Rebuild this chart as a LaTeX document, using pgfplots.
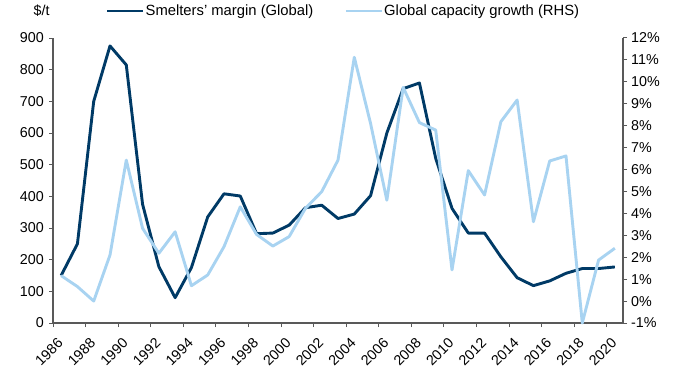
\documentclass[border=0pt]{standalone}
\usepackage{fontspec}
\setmainfont{Liberation Sans}
\usepackage{pgfplots}
\pgfplotsset{compat=1.18}
\definecolor{navy}{HTML}{003A66}
\definecolor{skyblue}{HTML}{A8D3F1}
\definecolor{axisgray}{HTML}{595959}

\begin{document}
\begin{tikzpicture}[font=\fontsize{14.3bp}{16bp}\selectfont]
\pgfplotsset{
  every axis/.append style={
    scale only axis, width=570bp, height=285bp,
    at={(0,0)}, anchor=south west,
    xmin=1986, xmax=2021,
    tick align=outside, major tick length=4bp,
    axis line style={axisgray, line width=1.2bp},
    every tick/.style={axisgray, line width=1bp},
    /pgf/number format/assume math mode=true,
    tick label style={black, font=\fontsize{14.3bp}{16bp}\selectfont},
  },
}
% Smelters' margin, left axis ($/t)
\begin{axis}[
  name=main,
  axis x line*=bottom, axis y line*=left,
  ymin=0, ymax=900, ytick={0,100,...,900},
  xtick={1986,1988,...,2020},
  xticklabel style={xshift=-4bp, yshift=-25bp, rotate=45, anchor=center, inner sep=0bp},
  xticklabel={\pgfmathprintnumber[1000 sep={}]{\tick}},
  yticklabel style={inner xsep=5bp},
  clip=false,
  legend style={at={(0.5,1)}, anchor=center, xshift=5bp, yshift=27bp,
    draw=none, fill=none, inner sep=0pt,
    font=\fontsize{14.8bp}{16bp}\selectfont,
    legend columns=2,
    nodes={inner sep=1bp},
    /tikz/every even column/.append style={column sep=30bp}},
  legend image code/.code={\draw[#1, line width=2.8bp] (0,0) -- (36bp,0);},
]
\addplot[navy, line width=2.9bp, line join=round] coordinates {
  (1986.5,150) (1987.5,250) (1988.5,700) (1989.5,875) (1990.5,815)
  (1991.5,375) (1992.5,178) (1993.5,80) (1994.5,175) (1995.5,335)
  (1996.5,408) (1997.5,401) (1998.5,282) (1999.5,284) (2000.5,309)
  (2001.5,364) (2002.5,372) (2003.5,330) (2004.5,344) (2005.5,402)
  (2006.5,600) (2007.5,740) (2008.5,758) (2009.5,520) (2010.5,362)
  (2011.5,284) (2012.5,284) (2013.5,209) (2014.5,143) (2015.5,118)
  (2016.5,133) (2017.5,157) (2018.5,172) (2019.5,172) (2020.5,177)
};
\addlegendentry{Smelters' margin (Global)}
\addlegendimage{skyblue, line width=2.8bp}
\addlegendentry{Global capacity growth (RHS)}
\node[anchor=east] at (rel axis cs:0,1) [yshift=27bp] {\$/t};
\end{axis}

% Global capacity growth, right axis (%)
\begin{axis}[
  axis x line=none, axis y line*=right,
  ymin=-1, ymax=12, ytick={-1,0,...,12},
  yticklabel={\pgfmathprintnumber{\tick}\%},
  yticklabel style={inner xsep=4bp},
  clip=false,
]
\addplot[skyblue, line width=2.9bp, line join=round] coordinates {
  (1986.5,1.16) (1987.5,0.66) (1988.5,0.0) (1989.5,2.1) (1990.5,6.43)
  (1991.5,3.32) (1992.5,2.18) (1993.5,3.16) (1994.5,0.70) (1995.5,1.19)
  (1996.5,2.48) (1997.5,4.30) (1998.5,3.04) (1999.5,2.51) (2000.5,2.94)
  (2001.5,4.23) (2002.5,4.99) (2003.5,6.43) (2004.5,11.12) (2005.5,8.1)
  (2006.5,4.6) (2007.5,9.75) (2008.5,8.14) (2009.5,7.8) (2010.5,1.42)
  (2011.5,5.95) (2012.5,4.84) (2013.5,8.18) (2014.5,9.17) (2015.5,3.62)
  (2016.5,6.39) (2017.5,6.62) (2018.5,-1.0) (2019.5,1.87) (2020.5,2.41)
};
\end{axis}
\pgfresetboundingbox
\useasboundingbox (-53bp,-46bp) rectangle (624bp,323bp);
\end{tikzpicture}
\end{document}
